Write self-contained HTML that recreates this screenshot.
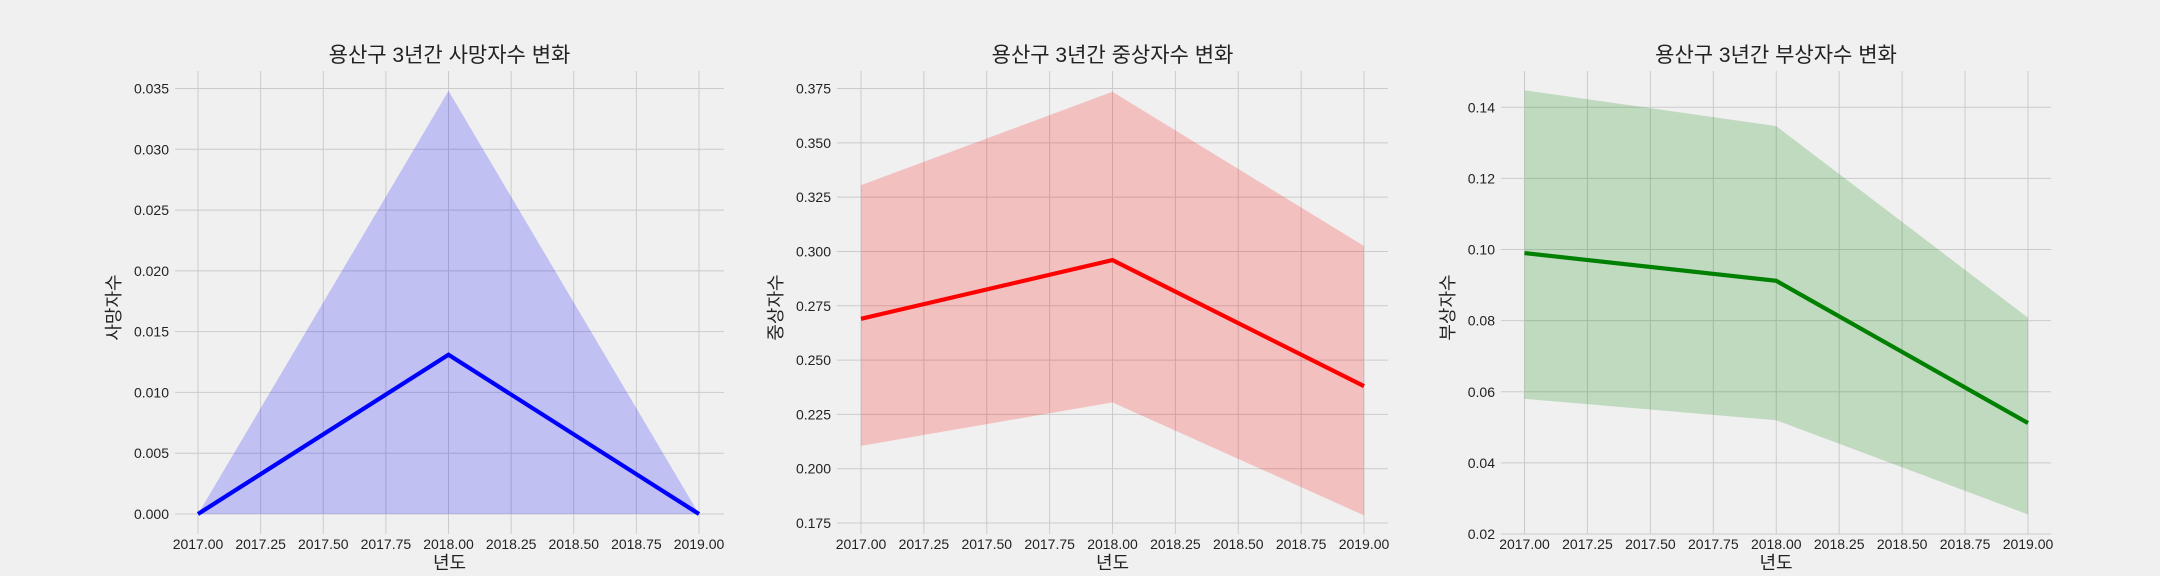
<!DOCTYPE html>
<html><head><meta charset="utf-8">
<style>
html,body{margin:0;padding:0;background:#f0f0f0;}
svg{display:block;}
text{font-family:"Liberation Sans","Noto Sans CJK KR",sans-serif;fill:#222;}
</style></head>
<body>
<svg id="fig" width="2160" height="576" viewBox="0 0 2160 576" xmlns="http://www.w3.org/2000/svg">
<rect width="2160" height="576" fill="#f0f0f0"/>
</svg>
<script>
const years = [2017, 2018, 2019];
const deathMean = [0, 0.0131, 0];
const deathLow = [0, 0, 0];
const deathHigh = [0, 0.0348, 0];
const seriousMean = [0.269, 0.296, 0.238];
const seriousLow = [0.2105, 0.2305, 0.1785];
const seriousHigh = [0.3305, 0.3735, 0.3025];
const injuryMean = [0.099, 0.0912, 0.0512];
const injuryLow = [0.058, 0.052, 0.0255];
const injuryHigh = [0.1448, 0.1347, 0.0808];
const xTicks = [2017, 2017.25, 2017.5, 2017.75, 2018, 2018.25, 2018.5, 2018.75, 2019];
const deathTicks = [0, 0.005, 0.01, 0.015, 0.02, 0.025, 0.03, 0.035];
const seriousTicks = [0.175, 0.2, 0.225, 0.25, 0.275, 0.3, 0.325, 0.35, 0.375];
const injuryTicks = [0.02, 0.04, 0.06, 0.08, 0.1, 0.12, 0.14];

const NS = "http://www.w3.org/2000/svg";
const svg = document.getElementById('fig');
function mk(tag, attrs, parent){const e=document.createElementNS(NS,tag);for(const k in attrs)e.setAttribute(k,attrs[k]);(parent||svg).appendChild(e);return e;}

const panels = [
 {key:'death', title:'용산구 3년간 사망자수 변화', ylabel:'사망자수', mean:deathMean, lo:deathLow, hi:deathHigh, ticks:deathTicks, dec:3,
  x0px:198, x1px:699, left:175, right:724, yA:0, yApx:514, yB:0.035, yBpx:88.5, ylabX:120, color:'#0000ff', fill:'rgba(0,0,255,0.2)'},
 {key:'serious', title:'용산구 3년간 중상자수 변화', ylabel:'중상자수', mean:seriousMean, lo:seriousLow, hi:seriousHigh, ticks:seriousTicks, dec:3,
  x0px:861, x1px:1364, left:837, right:1388, yA:0.175, yApx:523, yB:0.375, yBpx:88.5, ylabX:782, color:'#ff0000', fill:'rgba(255,0,0,0.2)'},
 {key:'injury', title:'용산구 3년간 부상자수 변화', ylabel:'부상자수', mean:injuryMean, lo:injuryLow, hi:injuryHigh, ticks:injuryTicks, dec:2,
  x0px:1524.5, x1px:2028, left:1501, right:2051, yA:0.02, yApx:534, yB:0.14, yBpx:107.3, ylabX:1454, color:'#008000', fill:'rgba(0,128,0,0.2)'}
];
const TOP=71, BOTTOM=534;

panels.forEach(p=>{
  const g = mk('g',{});
  
  
  const xs = v => p.x0px + (v - years[0])/(years[years.length-1]-years[0])*(p.x1px-p.x0px);
  const ys = v => p.yApx + (v - p.yA)/(p.yB - p.yA)*(p.yBpx - p.yApx);
  xTicks.forEach(t=>{
    const x=xs(t);
    const l=mk('line',{x1:x,x2:x,y1:TOP,y2:BOTTOM,stroke:'#cbcbcb','stroke-width':1},g);
    
    
    const tx=mk('text',{x:x,y:549,'text-anchor':'middle','font-size':14},g);
    tx.textContent=t.toFixed(2);
    
    
  });
  p.ticks.forEach(t=>{
    const y=ys(t);
    const l=mk('line',{x1:p.left,x2:p.right,y1:y,y2:y,stroke:'#cbcbcb','stroke-width':1},g);
    
    
    const tx=mk('text',{x:p.left-6,y:y+5,'text-anchor':'end','font-size':14},g);
    tx.textContent=t.toFixed(p.dec);
    
    
  });
  let d='';
  years.forEach((yr,i)=>{d+=(i?'L':'M')+xs(yr)+','+ys(p.hi[i]);});
  for(let i=years.length-1;i>=0;i--){d+='L'+xs(years[i])+','+ys(p.lo[i]);}
  d+='Z';
  const band=mk('path',{d:d,fill:p.fill,stroke:'none'},g);
  
  
  let ld='';
  years.forEach((yr,i)=>{ld+=(i?'L':'M')+xs(yr)+','+ys(p.mean[i]);});
  const line=mk('path',{d:ld,fill:'none',stroke:p.color,'stroke-width':4.2,'stroke-linejoin':'miter'},g);
  
  
  const cx=(p.left+p.right)/2;
  const tt=mk('text',{x:cx,y:62,'text-anchor':'middle','font-size':21},g);
  tt.textContent=p.title;
  
  
  const xl=mk('text',{x:cx,y:569,'text-anchor':'middle','font-size':18},g);
  xl.textContent='년도';
  
  
  const yl=mk('text',{x:p.ylabX,y:(TOP+BOTTOM)/2+5,'text-anchor':'middle','font-size':18,transform:'rotate(-90 '+p.ylabX+' '+((TOP+BOTTOM)/2+5)+')'},g);
  yl.textContent=p.ylabel;
  
  
});
</script>
</body></html>
